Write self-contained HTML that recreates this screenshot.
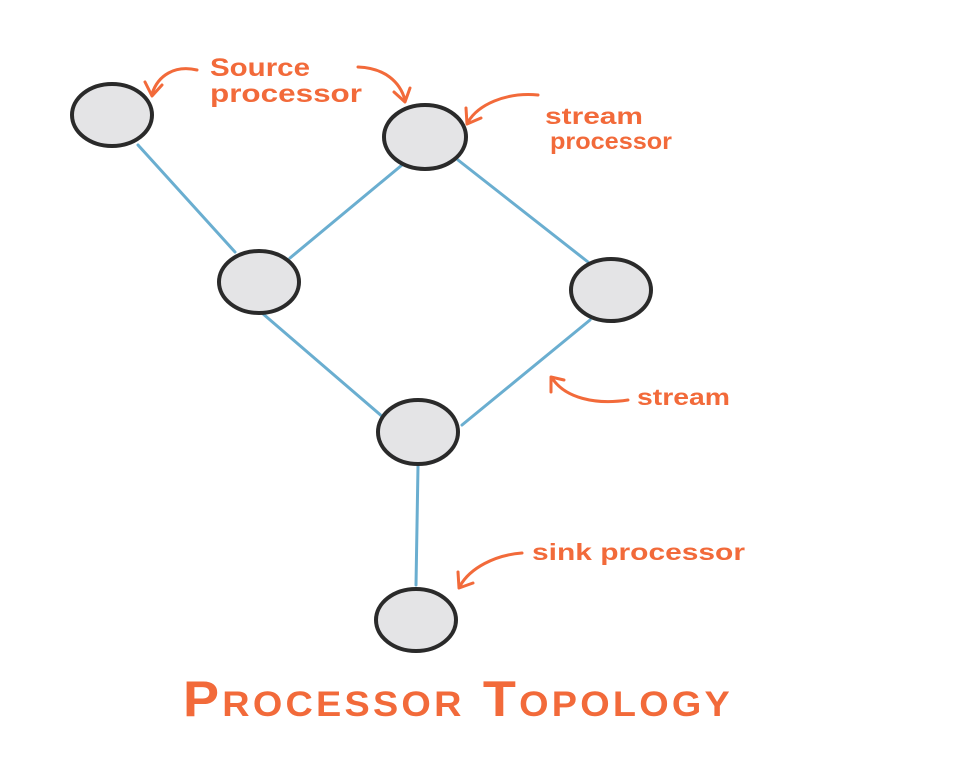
<!DOCTYPE html>
<html><head><meta charset="utf-8"><style>
html,body{margin:0;padding:0;background:#fff;}
svg{display:block;}
text{font-family:"Liberation Sans",sans-serif;fill:#f26a3a;font-weight:bold;}
</style></head><body>
<svg width="960" height="771" viewBox="0 0 960 771" xmlns="http://www.w3.org/2000/svg">
<rect width="960" height="771" fill="#fff"/>
<g stroke="#6aaed0" stroke-width="3" fill="none" stroke-linecap="round">
<line x1="138" y1="145" x2="235" y2="252"/>
<line x1="402" y1="165" x2="290" y2="258"/>
<line x1="458" y1="160" x2="588" y2="262"/>
<line x1="262" y1="313" x2="384" y2="418"/>
<line x1="590" y1="320" x2="462" y2="425"/>
<line x1="418" y1="466" x2="416" y2="585"/>
</g>
<g fill="#e4e4e6" stroke="#2a2a2a" stroke-width="4">
<ellipse cx="112" cy="115" rx="40" ry="31"/>
<ellipse cx="425" cy="137" rx="41" ry="32"/>
<ellipse cx="259" cy="282" rx="40" ry="31"/>
<ellipse cx="611" cy="290" rx="40" ry="31"/>
<ellipse cx="418" cy="432" rx="40" ry="32"/>
<ellipse cx="416" cy="620" rx="40" ry="31"/>
</g>
<g stroke="#f26a3a" stroke-width="3" fill="none" stroke-linecap="round" stroke-linejoin="round">
<path d="M197 70 C175 65 158 75 152 94"/><path d="M145 82 L152 96 L162 85"/>
<path d="M358 67 C385 68 400 82 405 100"/><path d="M394 92 L405 102 L410 88"/>
<path d="M538 95 C505 92 478 105 468 122"/><path d="M466 108 L467 124 L481 118"/>
<path d="M628 400 C595 405 565 398 552 378"/><path d="M551 392 L551 377 L564 380"/>
<path d="M522 553 C495 555 470 568 460 586"/><path d="M458 572 L459 588 L473 583"/>
</g>
<text x="210" y="76" font-size="25" textLength="100" lengthAdjust="spacingAndGlyphs">Source</text>
<text x="210" y="102" font-size="25" textLength="152" lengthAdjust="spacingAndGlyphs">processor</text>
<text x="545" y="124" font-size="23" textLength="98" lengthAdjust="spacingAndGlyphs">stream</text>
<text x="550" y="149" font-size="23" textLength="122" lengthAdjust="spacingAndGlyphs">processor</text>
<text x="637" y="405" font-size="23" textLength="93" lengthAdjust="spacingAndGlyphs">stream</text>
<text x="532" y="560" font-size="23" textLength="213" lengthAdjust="spacingAndGlyphs">sink processor</text>
<text x="183" y="716" font-size="50" style="font-variant:small-caps;letter-spacing:3px" textLength="550" lengthAdjust="spacingAndGlyphs">Processor Topology</text>
</svg>
</body></html>
